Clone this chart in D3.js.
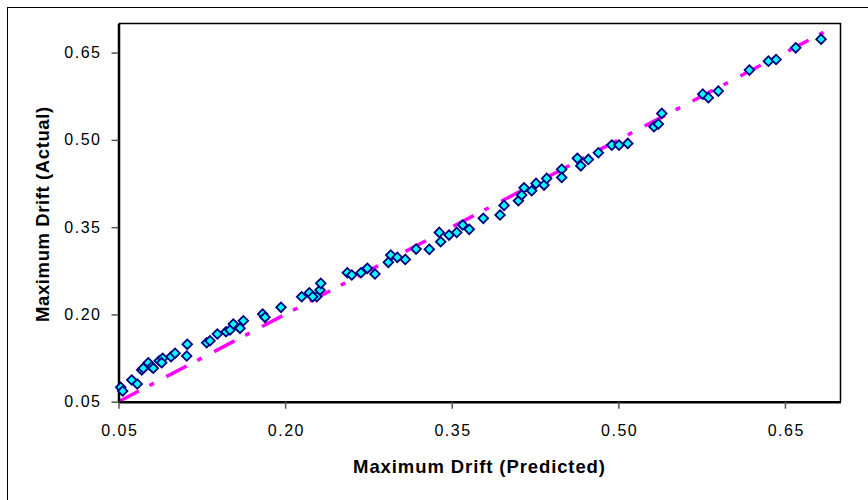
<!DOCTYPE html>
<html>
<head>
<meta charset="utf-8">
<script src="https://cdn.jsdelivr.net/npm/d3@7/dist/d3.min.js"></script>
<style>
  html, body { margin: 0; padding: 0; background: #fff; }
  svg { display: block; }
  text { font-family: "Liberation Sans", Arial, Helvetica, sans-serif; }
</style>
</head>
<body>
<svg id="chart" width="868" height="500"></svg>
<script>
// Predicted (x) and actual (y) maximum drift values
const predicted = [
  0.0520, 0.0538, 0.0619, 0.0669, 0.0709, 0.0723, 0.0768, 0.0799, 0.0813, 0.0867,
  0.0898, 0.0889, 0.0973, 0.1009, 0.1119, 0.1114, 0.1294, 0.1324, 0.1390, 0.1468,
  0.1504, 0.1534, 0.1594, 0.1624, 0.1798, 0.1819, 0.1963, 0.2149, 0.2218, 0.2285,
  0.2314, 0.2321, 0.2248, 0.2560, 0.2600, 0.2683, 0.2740, 0.2809, 0.2929, 0.2951,
  0.3010, 0.3082, 0.3179, 0.3298, 0.3388, 0.3401, 0.3476, 0.3545, 0.3599, 0.3658,
  0.3784, 0.3935, 0.3971, 0.4100, 0.4130, 0.4151, 0.4220, 0.4259, 0.4331, 0.4355,
  0.4490, 0.4490, 0.4631, 0.4662, 0.4730, 0.4820, 0.4941, 0.5006, 0.5085, 0.5321,
  0.5360, 0.5391, 0.5760, 0.5810, 0.5900, 0.6180, 0.6351, 0.6420, 0.6597, 0.6825
];
const actual = [
  0.0747, 0.0684, 0.0873, 0.0804, 0.1045, 0.1074, 0.1170, 0.1101, 0.1074, 0.1204,
  0.1246, 0.1170, 0.1273, 0.1332, 0.1486, 0.1285, 0.1514, 0.1548, 0.1663, 0.1703,
  0.1732, 0.1835, 0.1761, 0.1892, 0.2007, 0.1950, 0.2122, 0.2304, 0.2373, 0.2304,
  0.2419, 0.2534, 0.2304, 0.2716, 0.2677, 0.2716, 0.2792, 0.2694, 0.2895, 0.3020,
  0.2981, 0.2946, 0.3123, 0.3118, 0.3410, 0.3249, 0.3364, 0.3410, 0.3536, 0.3462,
  0.3651, 0.3708, 0.3874, 0.3953, 0.4051, 0.4177, 0.4125, 0.4252, 0.4223, 0.4338,
  0.4493, 0.4355, 0.4682, 0.4554, 0.4664, 0.4778, 0.4910, 0.4910, 0.4939, 0.5225,
  0.5271, 0.5455, 0.5786, 0.5723, 0.5838, 0.6199, 0.6353, 0.6382, 0.6582, 0.6731
];
// Line of equality (Actual = Predicted)
const equalityLine = [0.05, 0.687];
const tickValues = [0.05, 0.20, 0.35, 0.50, 0.65];
const axisMin = 0.05, axisMax = 0.70;
const xTitle = "Maximum Drift (Predicted)";
const yTitle = "Maximum Drift (Actual)";

const svg = d3.select("#chart");
const plot = { left: 118.5, top: 23.5, right: 840.5, bottom: 401.7 };

// outer chart-area frame (extends beyond the visible window on right/bottom)
svg.append("rect")
  .attr("x", 7.5).attr("y", 7.5)
  .attr("width", 880).attr("height", 520)
  .attr("fill", "#fff").attr("stroke", "#000").attr("stroke-width", 1);

const x = d3.scaleLinear().domain([axisMin, axisMax]).range([plot.left, plot.right]);
const y = d3.scaleLinear().domain([axisMin, axisMax]).range([plot.bottom, plot.top]);

// plot-area border (top & right)
svg.append("path")
  .attr("d", `M${plot.left},${plot.top}H${plot.right}V${plot.bottom}`)
  .attr("fill", "none").attr("stroke", "#000").attr("stroke-width", 1.5);

// equality line
const lineData = equalityLine.map(v => [v, v]);
svg.append("path")
  .datum(lineData)
  .attr("d", d3.line().x(d => x(d[0])).y(d => y(d[1])))
  .attr("fill", "none")
  .attr("stroke", "#FF00FF")
  .attr("stroke-width", 3.5)
  .attr("stroke-dasharray", "23,12,5,14");

// axes
const fmt = d3.format(".2f");
const xAxis = svg.append("g")
  .attr("transform", `translate(0,${plot.bottom})`)
  .call(d3.axisBottom(x).tickValues(tickValues).tickFormat(fmt).tickSize(7).tickSizeOuter(0));
const yAxis = svg.append("g")
  .attr("transform", `translate(${plot.left},0)`)
  .call(d3.axisLeft(y).tickValues(tickValues).tickFormat(fmt).tickSize(7).tickSizeOuter(0).tickPadding(10));

[xAxis, yAxis].forEach(g => {
  g.select(".domain").attr("stroke", "#000").attr("stroke-width", 2.5);
  g.selectAll(".tick line").attr("stroke", "#555").attr("stroke-width", 1.5);
  g.selectAll(".tick text")
    .attr("fill", "#000")
    .style("font-size", "16px")
    .style("letter-spacing", "1.5px")
    .style("font-family", "'Liberation Sans', Arial, sans-serif");
});
xAxis.selectAll(".tick text").attr("y", 0).attr("dy", 0).attr("transform", "translate(0.75,34.3)");

// markers
const pts = predicted.map((p, i) => ({ p, a: actual[i] }));
const diamond = d3.symbol().type(d3.symbolSquare).size(46)();
svg.append("g").selectAll("path")
  .data(pts)
  .enter().append("path")
  .attr("d", diamond)
  .attr("transform", d => `translate(${x(d.p)},${y(d.a)}) rotate(45)`)
  .attr("fill", "#00FFFF")
  .attr("stroke", "#000080")
  .attr("stroke-width", 1.8);

// axis titles
svg.append("text")
  .attr("x", (plot.left + plot.right) / 2)
  .attr("y", 473)
  .attr("text-anchor", "middle")
  .style("font-size", "18.5px")
  .style("font-weight", "bold")
  .style("letter-spacing", "0.9px")
  .text(xTitle);

svg.append("text")
  .attr("transform", `translate(49,${(plot.top + plot.bottom) / 2 + 1.5}) rotate(-90)`)
  .attr("text-anchor", "middle")
  .style("font-size", "18.5px")
  .style("font-weight", "bold")
  .style("letter-spacing", "0.6px")
  .text(yTitle);
</script>
</body>
</html>
